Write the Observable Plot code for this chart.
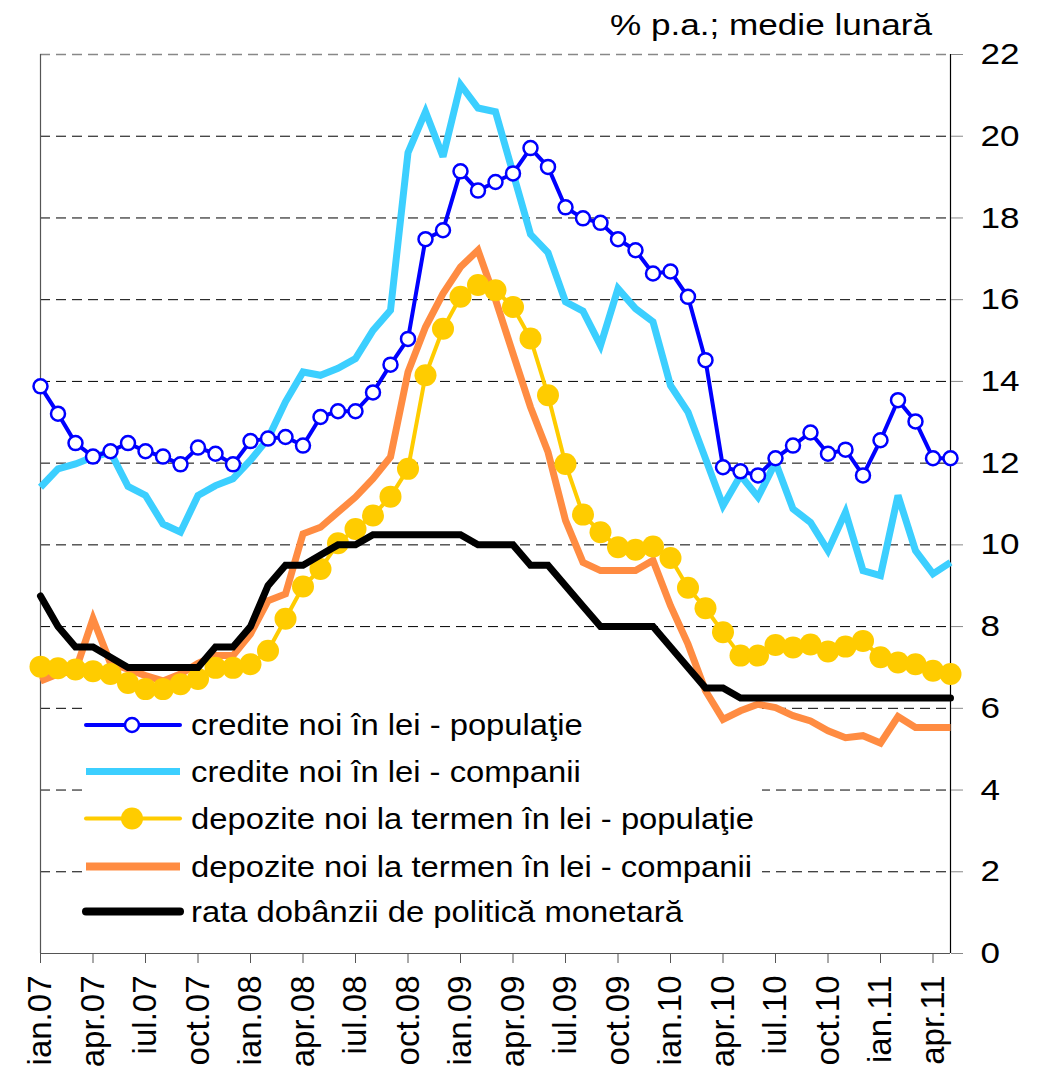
<!DOCTYPE html>
<html>
<head>
<meta charset="utf-8">
<script src="https://cdn.jsdelivr.net/npm/d3@7"></script>
<script src="https://cdn.jsdelivr.net/npm/@observablehq/plot@0.6"></script>
<style>
  html, body { margin: 0; padding: 0; background: #fff; }
  #chart { width: 1039px; height: 1074px; }
</style>
</head>
<body>
<div id="chart"></div>
<script>
// ---- data (monthly averages, % p.a.) ----
const months = [
  "ian.07","feb.07","mar.07","apr.07","mai.07","iun.07","iul.07","aug.07","sep.07","oct.07","noi.07","dec.07",
  "ian.08","feb.08","mar.08","apr.08","mai.08","iun.08","iul.08","aug.08","sep.08","oct.08","noi.08","dec.08",
  "ian.09","feb.09","mar.09","apr.09","mai.09","iun.09","iul.09","aug.09","sep.09","oct.09","noi.09","dec.09",
  "ian.10","feb.10","mar.10","apr.10","mai.10","iun.10","iul.10","aug.10","sep.10","oct.10","noi.10","dec.10",
  "ian.11","feb.11","mar.11","apr.11","mai.11"
];
const xTickLabels = ["ian.07","apr.07","iul.07","oct.07","ian.08","apr.08","iul.08","oct.08","ian.09","apr.09",
  "iul.09","oct.09","ian.10","apr.10","iul.10","oct.10","ian.11","apr.11"];
const yTicks = [0,2,4,6,8,10,12,14,16,18,20,22];

const creditePopulatie = [13.88,13.21,12.49,12.16,12.29,12.49,12.29,12.16,11.97,12.38,12.23,11.97,
  12.54,12.60,12.64,12.43,13.13,13.27,13.27,13.73,14.41,15.04,17.48,17.70,
  19.14,18.67,18.88,19.09,19.71,19.25,18.26,17.99,17.88,17.48,17.21,16.64,
  16.69,16.07,14.52,11.90,11.80,11.70,12.12,12.43,12.75,12.23,12.33,11.70,
  12.56,13.54,13.02,12.12,12.12];
const crediteCompanii = [11.41,11.86,11.98,12.15,12.27,11.43,11.21,10.51,10.31,11.21,11.45,11.62,
  12.07,12.60,13.50,14.23,14.15,14.32,14.56,15.25,15.74,19.60,20.60,19.50,
  21.26,20.69,20.60,19.10,17.60,17.15,15.95,15.72,14.88,16.27,15.78,15.46,
  13.90,13.25,12.11,10.96,11.70,11.17,12.02,10.88,10.55,9.86,10.80,9.37,
  9.25,11.21,9.86,9.29,9.57];
const depozitePopulatie = [7.02,6.98,6.95,6.91,6.84,6.62,6.47,6.47,6.59,6.72,6.99,6.99,
  7.08,7.41,8.19,8.98,9.41,10.04,10.39,10.72,11.18,11.86,14.15,15.29,
  16.07,16.36,16.23,15.82,15.05,13.66,11.98,10.74,10.31,9.94,9.88,9.96,
  9.68,8.95,8.45,7.86,7.29,7.29,7.55,7.49,7.56,7.39,7.51,7.65,
  7.25,7.12,7.08,6.92,6.84];
const depoziteCompanii = [6.67,6.84,6.92,8.19,7.10,6.96,6.80,6.67,6.84,7.10,7.29,7.29,
  7.82,8.63,8.80,10.27,10.43,10.80,11.17,11.62,12.15,14.23,15.33,16.15,
  16.80,17.21,16.00,14.68,13.37,12.27,10.60,9.57,9.37,9.37,9.37,9.62,
  8.51,7.57,6.43,5.73,5.94,6.10,6.02,5.82,5.69,5.45,5.28,5.33,
  5.15,5.80,5.53,5.53,5.53];
const rataPolitica = [8.75,8.00,7.50,7.50,7.25,7.00,7.00,7.00,7.00,7.00,7.50,7.50,
  8.00,9.00,9.50,9.50,9.75,10.00,10.00,10.25,10.25,10.25,10.25,10.25,
  10.25,10.00,10.00,10.00,9.50,9.50,9.00,8.50,8.00,8.00,8.00,8.00,
  7.50,7.00,6.50,6.50,6.25,6.25,6.25,6.25,6.25,6.25,6.25,6.25,
  6.25,6.25,6.25,6.25,6.25];

const seriesNames = [
  "credite noi în lei - populaţie",
  "credite noi în lei - companii",
  "depozite noi la termen în lei - populaţie",
  "depozite noi la termen în lei - companii",
  "rata dobânzii de politică monetară"
];
const seriesColors = ["#0000FF", "#3CCFFF", "#FFCC00", "#FF8C42", "#000000"];
const titleText = "% p.a.; medie lunară";

const rows = months.map((m, i) => ({
  month: m,
  cp: creditePopulatie[i],
  cc: crediteCompanii[i],
  dp: depozitePopulatie[i],
  dc: depoziteCompanii[i],
  rp: rataPolitica[i]
}));

const FONT = "'Liberation Sans', Arial, sans-serif";

const chart = Plot.plot({
  width: 1039,
  height: 1074,
  marginLeft: 40,
  marginRight: 89,
  marginTop: 54,
  marginBottom: 121,
  style: { fontFamily: FONT, background: "white", color: "#000", overflow: "visible" },
  x: { type: "point", domain: months, padding: 0, round: false },
  y: { domain: [0, 22] },
  marks: [
    Plot.gridY(yTicks.filter(v => v > 0 && v < 22), { stroke: "#000", strokeOpacity: 1, strokeWidth: 1, strokeDasharray: "10,6" }),
    Plot.gridY([22], { stroke: "#888", strokeOpacity: 1, strokeWidth: 1.5, strokeDasharray: "10,6" }),
    Plot.ruleX([months[0]], { stroke: "#555", strokeWidth: 1.2 }),
    Plot.ruleY([0], { stroke: "#555", strokeWidth: 1.2 }),
    Plot.ruleX([months[months.length - 1]], { stroke: "#000", strokeWidth: 1.2 }),
    Plot.axisY({ anchor: "right", ticks: yTicks, tickSize: 12, tickPadding: 18, fontSize: 30, stroke: "#888", label: null }),
    Plot.axisX({ ticks: xTickLabels, tickSize: 10, tickPadding: 12, tickRotate: -90, fontSize: 33, stroke: "#555", label: null }),
    Plot.line(rows, { x: "month", y: "cc", stroke: seriesColors[1], strokeWidth: 7, strokeLinejoin: "miter", strokeMiterlimit: 3, strokeLinecap: "butt" }),
    Plot.line(rows, { x: "month", y: "cp", stroke: seriesColors[0], strokeWidth: 4 }),
    Plot.dot(rows, { x: "month", y: "cp", r: 7, fill: "white", stroke: seriesColors[0], strokeWidth: 2.5 }),
    Plot.line(rows, { x: "month", y: "dc", stroke: seriesColors[3], strokeWidth: 7, strokeLinejoin: "miter", strokeMiterlimit: 3, strokeLinecap: "butt" }),
    Plot.line(rows, { x: "month", y: "dp", stroke: seriesColors[2], strokeWidth: 4 }),
    Plot.dot(rows, { x: "month", y: "dp", r: 11, fill: seriesColors[2], stroke: "none" }),
    Plot.line(rows, { x: "month", y: "rp", stroke: seriesColors[4], strokeWidth: 7, strokeLinejoin: "miter", strokeMiterlimit: 3 })
  ]
});

document.getElementById("chart").appendChild(chart);

// ---- post-processing: legend, title, wide text ----
const svgNS = "http://www.w3.org/2000/svg";
const svg = chart.tagName.toLowerCase() === "svg" ? chart : chart.querySelector("svg");
function el(name, attrs, parent) {
  const e = document.createElementNS(svgNS, name);
  for (const k in attrs) e.setAttribute(k, attrs[k]);
  if (parent) parent.appendChild(e);
  return e;
}

// widen y tick labels (the reference's text is horizontally wide)
svg.querySelectorAll('[aria-label="y-axis tick label"] text').forEach(t => {
  const len = t.getComputedTextLength();
  t.setAttribute("textLength", (len * 1.17).toFixed(1));
  t.setAttribute("lengthAdjust", "spacingAndGlyphs");
});

// legend white box under the series, above the grid
const grids = svg.querySelectorAll('[aria-label="y-grid"]');
const box = document.createElementNS(svgNS, "rect");
box.setAttribute("x", 83); box.setAttribute("y", 700);
box.setAttribute("width", 679); box.setAttribute("height", 236);
box.setAttribute("fill", "white");
grids[grids.length - 1].after(box);

// legend entries on top
const leg = el("g", { "font-family": FONT, "font-size": 29, fill: "#000", "text-anchor": "start" }, svg);
const rowY = [725, 771.5, 818.5, 866.5, 911.5];
const lineW = [4, 7, 4, 8, 8];
seriesNames.forEach((name, i) => {
  const cy = rowY[i];
  el("line", { x1: 86, x2: 180, y1: cy, y2: cy, stroke: seriesColors[i], "stroke-width": lineW[i],
    "stroke-linecap": (i === 1 || i === 3) ? "butt" : "round" }, leg);
  if (i === 0) el("circle", { cx: 132, cy, r: 7, fill: "white", stroke: seriesColors[0], "stroke-width": 2.5 }, leg);
  if (i === 2) el("circle", { cx: 132, cy, r: 11, fill: seriesColors[2] }, leg);
  const t = el("text", { x: 191, y: cy + 10, "text-anchor": "start" }, leg);
  t.textContent = name;
  const len = t.getComputedTextLength();
  t.setAttribute("textLength", (len * 1.13).toFixed(1));
  t.setAttribute("lengthAdjust", "spacingAndGlyphs");
});

// title
const title = el("text", { x: 610, y: 35, "font-family": FONT, "font-size": 29, fill: "#000",
  "text-anchor": "start", textLength: 322, lengthAdjust: "spacingAndGlyphs" }, svg);
title.textContent = titleText;
</script>
</body>
</html>
